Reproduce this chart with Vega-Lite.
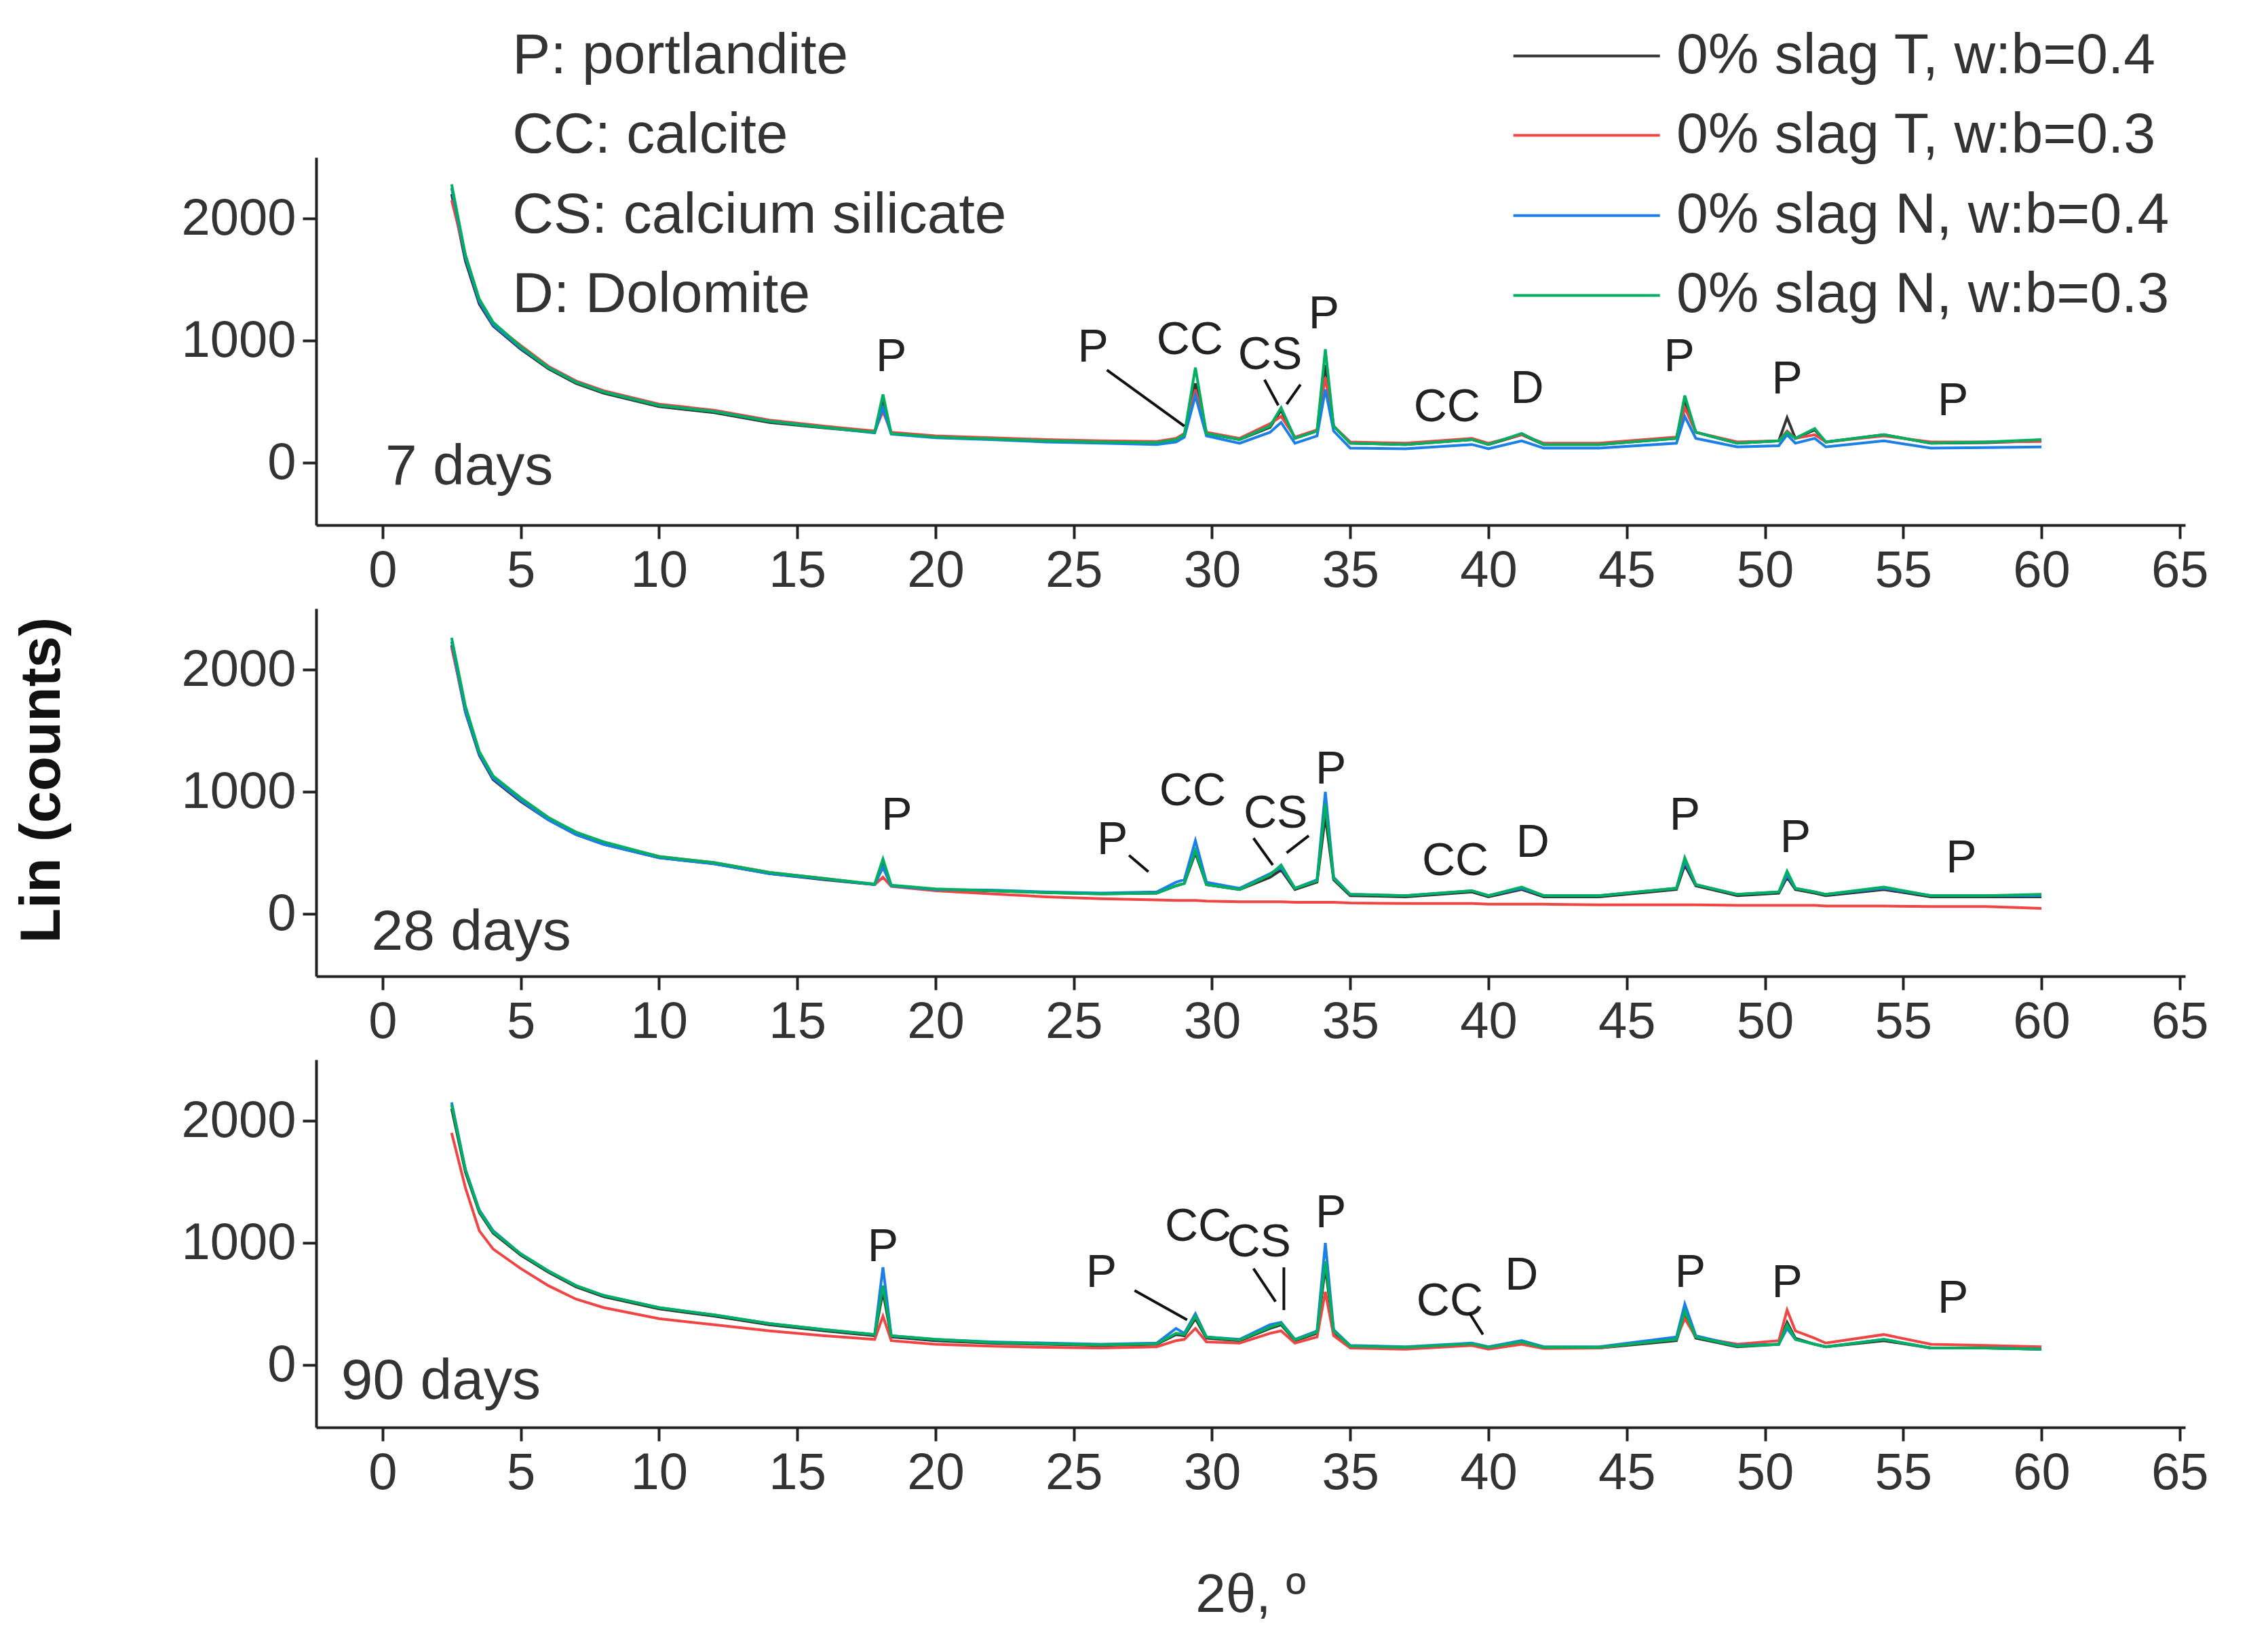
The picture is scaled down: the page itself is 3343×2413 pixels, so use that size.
{
  "$schema": "https://vega.github.io/schema/vega-lite/v6.json",
  "background": "white",
  "padding": {"left": 20, "top": 40, "right": 20, "bottom": 20},
  "bounds": "flush",
  "spacing": 123,
  "config": {
    "font": "Liberation Sans",
    "view": {"stroke": null},
    "axis": {
      "grid": false, "domainColor": "#222", "domainWidth": 4, "tickColor": "#222", "tickWidth": 4, "tickSize": 20,
      "labelFont": "Liberation Sans", "labelFontSize": 76, "labelColor": "#333", "labelPadding": 10, "labelLimit": 0, "format": "d", "title": null
    }
  },
  "datasets": {
    "xrd": [
      {"p":"7","x":2.5,"T4":2200,"T3":2150,"N4":2250,"N3":2280},
      {"p":"7","x":3,"T4":1650,"T3":1700,"N4":1680,"N3":1700},
      {"p":"7","x":3.5,"T4":1300,"T3":1330,"N4":1320,"N3":1340},
      {"p":"7","x":4,"T4":1120,"T3":1140,"N4":1130,"N3":1150},
      {"p":"7","x":5,"T4":930,"T3":960,"N4":940,"N3":950},
      {"p":"7","x":6,"T4":770,"T3":790,"N4":780,"N3":780},
      {"p":"7","x":7,"T4":650,"T3":670,"N4":660,"N3":660},
      {"p":"7","x":8,"T4":570,"T3":590,"N4":580,"N3":580},
      {"p":"7","x":10,"T4":460,"T3":480,"N4":470,"N3":470},
      {"p":"7","x":12,"T4":410,"T3":430,"N4":420,"N3":420},
      {"p":"7","x":14,"T4":330,"T3":350,"N4":340,"N3":340},
      {"p":"7","x":16,"T4":285,"T3":300,"N4":290,"N3":290},
      {"p":"7","x":17.8,"T4":250,"T3":260,"N4":245,"N3":250},
      {"p":"7","x":18.1,"T4":480,"T3":420,"N4":450,"N3":560},
      {"p":"7","x":18.4,"T4":240,"T3":250,"N4":235,"N3":240},
      {"p":"7","x":20,"T4":210,"T3":220,"N4":205,"N3":210},
      {"p":"7","x":22,"T4":195,"T3":205,"N4":190,"N3":195},
      {"p":"7","x":24,"T4":180,"T3":190,"N4":170,"N3":180},
      {"p":"7","x":26,"T4":170,"T3":180,"N4":160,"N3":170},
      {"p":"7","x":28,"T4":165,"T3":175,"N4":150,"N3":165},
      {"p":"7","x":28.7,"T4":190,"T3":200,"N4":170,"N3":190},
      {"p":"7","x":29.0,"T4":230,"T3":240,"N4":210,"N3":230},
      {"p":"7","x":29.4,"T4":650,"T3":600,"N4":550,"N3":780},
      {"p":"7","x":29.8,"T4":240,"T3":250,"N4":220,"N3":240},
      {"p":"7","x":31,"T4":190,"T3":200,"N4":160,"N3":190},
      {"p":"7","x":32.1,"T4":290,"T3":320,"N4":250,"N3":300},
      {"p":"7","x":32.5,"T4":430,"T3":380,"N4":330,"N3":450},
      {"p":"7","x":33,"T4":200,"T3":210,"N4":160,"N3":200},
      {"p":"7","x":33.8,"T4":260,"T3":270,"N4":220,"N3":260},
      {"p":"7","x":34.1,"T4":800,"T3":700,"N4":600,"N3":930},
      {"p":"7","x":34.4,"T4":300,"T3":300,"N4":260,"N3":300},
      {"p":"7","x":35,"T4":160,"T3":170,"N4":120,"N3":160},
      {"p":"7","x":37,"T4":150,"T3":160,"N4":115,"N3":150},
      {"p":"7","x":39.4,"T4":190,"T3":200,"N4":150,"N3":190},
      {"p":"7","x":40,"T4":150,"T3":160,"N4":115,"N3":150},
      {"p":"7","x":41.2,"T4":230,"T3":230,"N4":180,"N3":240},
      {"p":"7","x":42,"T4":150,"T3":160,"N4":120,"N3":150},
      {"p":"7","x":44,"T4":150,"T3":160,"N4":120,"N3":150},
      {"p":"7","x":46.8,"T4":200,"T3":210,"N4":160,"N3":200},
      {"p":"7","x":47.1,"T4":500,"T3":450,"N4":380,"N3":550},
      {"p":"7","x":47.5,"T4":250,"T3":250,"N4":200,"N3":250},
      {"p":"7","x":49,"T4":160,"T3":170,"N4":130,"N3":160},
      {"p":"7","x":50.5,"T4":180,"T3":180,"N4":140,"N3":180},
      {"p":"7","x":50.8,"T4":370,"T3":260,"N4":230,"N3":250},
      {"p":"7","x":51.1,"T4":200,"T3":200,"N4":160,"N3":200},
      {"p":"7","x":51.8,"T4":270,"T3":230,"N4":200,"N3":280},
      {"p":"7","x":52.2,"T4":170,"T3":170,"N4":130,"N3":170},
      {"p":"7","x":54.3,"T4":230,"T3":220,"N4":180,"N3":230},
      {"p":"7","x":56,"T4":160,"T3":170,"N4":120,"N3":160},
      {"p":"7","x":58,"T4":165,"T3":170,"N4":125,"N3":170},
      {"p":"7","x":60,"T4":180,"T3":175,"N4":130,"N3":190},

      {"p":"28","x":2.5,"T4":2200,"T3":2180,"N4":2230,"N3":2260},
      {"p":"28","x":3,"T4":1650,"T3":1680,"N4":1660,"N3":1700},
      {"p":"28","x":3.5,"T4":1300,"T3":1320,"N4":1310,"N3":1330},
      {"p":"28","x":4,"T4":1100,"T3":1120,"N4":1110,"N3":1130},
      {"p":"28","x":5,"T4":920,"T3":940,"N4":930,"N3":950},
      {"p":"28","x":6,"T4":770,"T3":780,"N4":770,"N3":790},
      {"p":"28","x":7,"T4":650,"T3":660,"N4":650,"N3":670},
      {"p":"28","x":8,"T4":570,"T3":580,"N4":570,"N3":590},
      {"p":"28","x":10,"T4":460,"T3":470,"N4":460,"N3":470},
      {"p":"28","x":12,"T4":410,"T3":420,"N4":410,"N3":420},
      {"p":"28","x":14,"T4":330,"T3":340,"N4":330,"N3":340},
      {"p":"28","x":16,"T4":280,"T3":290,"N4":285,"N3":290},
      {"p":"28","x":17.8,"T4":240,"T3":240,"N4":240,"N3":245},
      {"p":"28","x":18.1,"T4":400,"T3":300,"N4":380,"N3":450},
      {"p":"28","x":18.4,"T4":230,"T3":225,"N4":230,"N3":235},
      {"p":"28","x":20,"T4":200,"T3":190,"N4":200,"N3":205},
      {"p":"28","x":22,"T4":190,"T3":165,"N4":195,"N3":190},
      {"p":"28","x":24,"T4":175,"T3":140,"N4":180,"N3":175},
      {"p":"28","x":26,"T4":165,"T3":125,"N4":170,"N3":165},
      {"p":"28","x":28,"T4":170,"T3":115,"N4":180,"N3":170},
      {"p":"28","x":28.7,"T4":230,"T3":110,"N4":260,"N3":230},
      {"p":"28","x":29.0,"T4":250,"T3":110,"N4":280,"N3":250},
      {"p":"28","x":29.4,"T4":500,"T3":110,"N4":600,"N3":520},
      {"p":"28","x":29.8,"T4":240,"T3":105,"N4":260,"N3":240},
      {"p":"28","x":31,"T4":200,"T3":100,"N4":210,"N3":200},
      {"p":"28","x":32.1,"T4":300,"T3":100,"N4":330,"N3":320},
      {"p":"28","x":32.5,"T4":360,"T3":100,"N4":380,"N3":400},
      {"p":"28","x":33,"T4":200,"T3":95,"N4":210,"N3":210},
      {"p":"28","x":33.8,"T4":260,"T3":95,"N4":280,"N3":270},
      {"p":"28","x":34.1,"T4":800,"T3":95,"N4":1000,"N3":900},
      {"p":"28","x":34.4,"T4":280,"T3":95,"N4":300,"N3":290},
      {"p":"28","x":35,"T4":150,"T3":90,"N4":160,"N3":160},
      {"p":"28","x":37,"T4":140,"T3":85,"N4":150,"N3":150},
      {"p":"28","x":39.4,"T4":180,"T3":85,"N4":190,"N3":190},
      {"p":"28","x":40,"T4":140,"T3":80,"N4":150,"N3":150},
      {"p":"28","x":41.2,"T4":200,"T3":80,"N4":210,"N3":220},
      {"p":"28","x":42,"T4":140,"T3":80,"N4":150,"N3":150},
      {"p":"28","x":44,"T4":140,"T3":75,"N4":150,"N3":150},
      {"p":"28","x":46.8,"T4":200,"T3":75,"N4":210,"N3":210},
      {"p":"28","x":47.1,"T4":400,"T3":75,"N4":430,"N3":460},
      {"p":"28","x":47.5,"T4":230,"T3":75,"N4":240,"N3":240},
      {"p":"28","x":49,"T4":150,"T3":70,"N4":160,"N3":160},
      {"p":"28","x":50.5,"T4":170,"T3":70,"N4":180,"N3":180},
      {"p":"28","x":50.8,"T4":300,"T3":70,"N4":320,"N3":350},
      {"p":"28","x":51.1,"T4":200,"T3":70,"N4":210,"N3":210},
      {"p":"28","x":51.8,"T4":170,"T3":70,"N4":180,"N3":180},
      {"p":"28","x":52.2,"T4":150,"T3":65,"N4":160,"N3":160},
      {"p":"28","x":54.3,"T4":200,"T3":65,"N4":210,"N3":220},
      {"p":"28","x":56,"T4":140,"T3":60,"N4":150,"N3":150},
      {"p":"28","x":58,"T4":140,"T3":60,"N4":150,"N3":150},
      {"p":"28","x":60,"T4":140,"T3":45,"N4":150,"N3":160},

      {"p":"90","x":2.5,"T4":2100,"T3":1900,"N4":2150,"N3":2130},
      {"p":"90","x":3,"T4":1580,"T3":1450,"N4":1600,"N3":1600},
      {"p":"90","x":3.5,"T4":1250,"T3":1100,"N4":1270,"N3":1260},
      {"p":"90","x":4,"T4":1080,"T3":950,"N4":1100,"N3":1090},
      {"p":"90","x":5,"T4":900,"T3":790,"N4":910,"N3":910},
      {"p":"90","x":6,"T4":760,"T3":650,"N4":770,"N3":770},
      {"p":"90","x":7,"T4":640,"T3":540,"N4":650,"N3":650},
      {"p":"90","x":8,"T4":560,"T3":470,"N4":570,"N3":570},
      {"p":"90","x":10,"T4":460,"T3":380,"N4":470,"N3":470},
      {"p":"90","x":12,"T4":400,"T3":330,"N4":410,"N3":410},
      {"p":"90","x":14,"T4":330,"T3":280,"N4":340,"N3":340},
      {"p":"90","x":16,"T4":280,"T3":240,"N4":290,"N3":290},
      {"p":"90","x":17.8,"T4":240,"T3":210,"N4":250,"N3":250},
      {"p":"90","x":18.1,"T4":600,"T3":400,"N4":800,"N3":650},
      {"p":"90","x":18.4,"T4":230,"T3":200,"N4":240,"N3":240},
      {"p":"90","x":20,"T4":200,"T3":170,"N4":210,"N3":210},
      {"p":"90","x":22,"T4":180,"T3":155,"N4":190,"N3":185},
      {"p":"90","x":24,"T4":170,"T3":145,"N4":180,"N3":175},
      {"p":"90","x":26,"T4":160,"T3":140,"N4":170,"N3":165},
      {"p":"90","x":28,"T4":170,"T3":150,"N4":180,"N3":175},
      {"p":"90","x":28.7,"T4":250,"T3":200,"N4":300,"N3":260},
      {"p":"90","x":29.0,"T4":240,"T3":210,"N4":260,"N3":250},
      {"p":"90","x":29.4,"T4":380,"T3":300,"N4":420,"N3":400},
      {"p":"90","x":29.8,"T4":220,"T3":190,"N4":230,"N3":230},
      {"p":"90","x":31,"T4":200,"T3":180,"N4":210,"N3":205},
      {"p":"90","x":32.1,"T4":300,"T3":260,"N4":330,"N3":310},
      {"p":"90","x":32.5,"T4":330,"T3":280,"N4":350,"N3":340},
      {"p":"90","x":33,"T4":200,"T3":180,"N4":210,"N3":205},
      {"p":"90","x":33.8,"T4":260,"T3":230,"N4":280,"N3":270},
      {"p":"90","x":34.1,"T4":800,"T3":600,"N4":1000,"N3":850},
      {"p":"90","x":34.4,"T4":270,"T3":240,"N4":290,"N3":280},
      {"p":"90","x":35,"T4":150,"T3":140,"N4":160,"N3":155},
      {"p":"90","x":37,"T4":140,"T3":130,"N4":150,"N3":145},
      {"p":"90","x":39.4,"T4":170,"T3":160,"N4":180,"N3":175},
      {"p":"90","x":40,"T4":140,"T3":130,"N4":150,"N3":145},
      {"p":"90","x":41.2,"T4":180,"T3":170,"N4":200,"N3":190},
      {"p":"90","x":42,"T4":140,"T3":135,"N4":150,"N3":145},
      {"p":"90","x":44,"T4":140,"T3":140,"N4":150,"N3":145},
      {"p":"90","x":46.8,"T4":200,"T3":220,"N4":230,"N3":210},
      {"p":"90","x":47.1,"T4":420,"T3":380,"N4":500,"N3":440},
      {"p":"90","x":47.5,"T4":220,"T3":230,"N4":240,"N3":230},
      {"p":"90","x":49,"T4":150,"T3":170,"N4":160,"N3":155},
      {"p":"90","x":50.5,"T4":170,"T3":200,"N4":170,"N3":170},
      {"p":"90","x":50.8,"T4":350,"T3":450,"N4":300,"N3":330},
      {"p":"90","x":51.1,"T4":220,"T3":280,"N4":210,"N3":210},
      {"p":"90","x":51.8,"T4":170,"T3":220,"N4":170,"N3":170},
      {"p":"90","x":52.2,"T4":150,"T3":180,"N4":150,"N3":150},
      {"p":"90","x":54.3,"T4":200,"T3":250,"N4":210,"N3":210},
      {"p":"90","x":56,"T4":140,"T3":170,"N4":140,"N3":140},
      {"p":"90","x":58,"T4":140,"T3":160,"N4":140,"N3":140},
      {"p":"90","x":60,"T4":130,"T3":150,"N4":130,"N3":130}
    ],
    "ann": [
      {"p":"7","t":"P","x":18.4,"y":860},
      {"p":"7","t":"P","x":25.7,"y":940},
      {"p":"7","t":"CC","x":29.2,"y":1000},
      {"p":"7","t":"CS","x":32.1,"y":880},
      {"p":"7","t":"P","x":34.05,"y":1210},
      {"p":"7","t":"CC","x":38.5,"y":450},
      {"p":"7","t":"D","x":41.4,"y":600},
      {"p":"7","t":"P","x":46.9,"y":860},
      {"p":"7","t":"P","x":50.8,"y":680},
      {"p":"7","t":"P","x":56.8,"y":500},
      {"p":"28","t":"P","x":18.6,"y":800},
      {"p":"28","t":"P","x":26.4,"y":600},
      {"p":"28","t":"CC","x":29.3,"y":1000},
      {"p":"28","t":"CS","x":32.3,"y":820},
      {"p":"28","t":"P","x":34.3,"y":1180},
      {"p":"28","t":"CC","x":38.8,"y":430},
      {"p":"28","t":"D","x":41.6,"y":580},
      {"p":"28","t":"P","x":47.1,"y":800},
      {"p":"28","t":"P","x":51.1,"y":620},
      {"p":"28","t":"P","x":57.1,"y":450},
      {"p":"90","t":"P","x":18.1,"y":960},
      {"p":"90","t":"P","x":26.0,"y":750},
      {"p":"90","t":"CC","x":29.5,"y":1130},
      {"p":"90","t":"CS","x":31.7,"y":1000},
      {"p":"90","t":"P","x":34.3,"y":1240},
      {"p":"90","t":"CC","x":38.6,"y":520},
      {"p":"90","t":"D","x":41.2,"y":730},
      {"p":"90","t":"P","x":47.3,"y":750},
      {"p":"90","t":"P","x":50.8,"y":670},
      {"p":"90","t":"P","x":56.8,"y":540}
    ],
    "arr": [
      {"p":"7","x":26.2,"y":760,"x2":29.0,"y2":300},
      {"p":"7","x":31.9,"y":680,"x2":32.4,"y2":470},
      {"p":"7","x":33.2,"y":640,"x2":32.7,"y2":480},
      {"p":"28","x":27.0,"y":480,"x2":27.7,"y2":345},
      {"p":"28","x":31.5,"y":620,"x2":32.2,"y2":400},
      {"p":"28","x":33.5,"y":640,"x2":32.7,"y2":500},
      {"p":"90","x":27.2,"y":610,"x2":29.1,"y2":370},
      {"p":"90","x":31.5,"y":790,"x2":32.3,"y2":520},
      {"p":"90","x":32.6,"y":800,"x2":32.6,"y2":450},
      {"p":"90","x":39.3,"y":430,"x2":39.8,"y2":250}
    ],
    "leg": [
      {"s":"0% slag T, w:b=0.4","y":3330},
      {"s":"0% slag T, w:b=0.3","y":2680},
      {"s":"0% slag N, w:b=0.4","y":2024},
      {"s":"0% slag N, w:b=0.3","y":1370}
    ],
    "key": [
      {"t":"P: portlandite","y":3330},
      {"t":"CC: calcite","y":2680},
      {"t":"CS: calcium silicate","y":2024},
      {"t":"D: Dolomite","y":1370}
    ]
  },
  "vconcat": [
    {
      "width": 2755, "height": 542,
      "encoding": {
        "x": {"type": "quantitative", "scale": {"domain": [-2.4, 65.2], "nice": false, "zero": false}, "axis": {"values": [0,5,10,15,20,25,30,35,40,45,50,55,60,65]}},
        "y": {"type": "quantitative", "scale": {"domain": [-510, 2500], "nice": false, "zero": false}, "axis": {"values": [0,1000,2000]}}
      },
      "layer": [
        {
          "data": {"name": "xrd"},
          "transform": [{"filter": "datum.p == '7'"}, {"fold": ["T4","T3","N4","N3"], "as": ["s","v"]}],
          "mark": {"type": "line", "strokeWidth": 4, "clip": true},
          "encoding": {"x": {"field": "x"}, "y": {"field": "v"},
            "color": {"field": "s", "type": "nominal", "scale": {"domain": ["T4","T3","N4","N3"], "range": ["#333333","#f04545","#1a7fe6","#00b060"]}, "legend": null}}
        },
        {
          "data": {"name": "ann"}, "transform": [{"filter": "datum.p == '7'"}],
          "mark": {"type": "text", "fontSize": 68, "color": "#222", "baseline": "middle"},
          "encoding": {"x": {"field": "x"}, "y": {"field": "y"}, "text": {"field": "t"}}
        },
        {
          "data": {"name": "arr"}, "transform": [{"filter": "datum.p == '7'"}],
          "mark": {"type": "rule", "strokeWidth": 4, "color": "#111"},
          "encoding": {"x": {"field": "x"}, "y": {"field": "y"}, "x2": {"field": "x2"}, "y2": {"field": "y2"}}
        },
        {
          "data": {"name": "leg"},
          "mark": {"type": "rule", "strokeWidth": 4},
          "encoding": {"x": {"datum": 40.9}, "x2": {"datum": 46.2}, "y": {"field": "y"},
            "color": {"field": "s", "type": "nominal", "scale": {"domain": ["0% slag T, w:b=0.4","0% slag T, w:b=0.3","0% slag N, w:b=0.4","0% slag N, w:b=0.3"], "range": ["#333333","#f04545","#1a7fe6","#00b060"]}, "legend": null}}
        },
        {
          "data": {"name": "leg"},
          "mark": {"type": "text", "fontSize": 84, "color": "#333", "align": "left", "baseline": "middle"},
          "encoding": {"x": {"datum": 46.8}, "y": {"field": "y"}, "text": {"field": "s"}}
        },
        {
          "data": {"name": "key"},
          "mark": {"type": "text", "fontSize": 84, "color": "#333", "align": "left", "baseline": "middle"},
          "encoding": {"x": {"datum": 4.7}, "y": {"field": "y"}, "text": {"field": "t"}}
        },
        {
          "data": {"values": [{"t": "7 days"}]},
          "mark": {"type": "text", "fontSize": 84, "color": "#333", "align": "left", "baseline": "middle"},
          "encoding": {"x": {"datum": 0.1}, "y": {"datum": -40}, "text": {"field": "t"}}
        }
      ]
    },
    {
      "width": 2755, "height": 542,
      "encoding": {
        "x": {"type": "quantitative", "scale": {"domain": [-2.4, 65.2], "nice": false, "zero": false}, "axis": {"values": [0,5,10,15,20,25,30,35,40,45,50,55,60,65]}},
        "y": {"type": "quantitative", "scale": {"domain": [-510, 2500], "nice": false, "zero": false}, "axis": {"values": [0,1000,2000]}}
      },
      "layer": [
        {
          "data": {"name": "xrd"},
          "transform": [{"filter": "datum.p == '28'"}, {"fold": ["T4","T3","N4","N3"], "as": ["s","v"]}],
          "mark": {"type": "line", "strokeWidth": 4, "clip": true},
          "encoding": {"x": {"field": "x"}, "y": {"field": "v"},
            "color": {"field": "s", "type": "nominal", "scale": {"domain": ["T4","T3","N4","N3"], "range": ["#333333","#f04545","#1a7fe6","#00b060"]}, "legend": null}}
        },
        {
          "data": {"name": "ann"}, "transform": [{"filter": "datum.p == '28'"}],
          "mark": {"type": "text", "fontSize": 68, "color": "#222", "baseline": "middle"},
          "encoding": {"x": {"field": "x"}, "y": {"field": "y"}, "text": {"field": "t"}}
        },
        {
          "data": {"name": "arr"}, "transform": [{"filter": "datum.p == '28'"}],
          "mark": {"type": "rule", "strokeWidth": 4, "color": "#111"},
          "encoding": {"x": {"field": "x"}, "y": {"field": "y"}, "x2": {"field": "x2"}, "y2": {"field": "y2"}}
        },
        {
          "data": {"values": [{"t": "28 days"}]},
          "mark": {"type": "text", "fontSize": 84, "color": "#333", "align": "left", "baseline": "middle"},
          "encoding": {"x": {"datum": -0.4}, "y": {"datum": -155}, "text": {"field": "t"}}
        },
        {
          "data": {"values": [{"t": "Lin (counts)"}]},
          "mark": {"type": "text", "fontSize": 84, "fontWeight": "bold", "color": "#111", "angle": 270, "baseline": "middle"},
          "encoding": {"x": {"datum": -12.3}, "y": {"datum": 1095}, "text": {"field": "t"}}
        }
      ]
    },
    {
      "width": 2755, "height": 542,
      "encoding": {
        "x": {"type": "quantitative", "scale": {"domain": [-2.4, 65.2], "nice": false, "zero": false}, "axis": {"values": [0,5,10,15,20,25,30,35,40,45,50,55,60,65]}},
        "y": {"type": "quantitative", "scale": {"domain": [-510, 2500], "nice": false, "zero": false}, "axis": {"values": [0,1000,2000]}}
      },
      "layer": [
        {
          "data": {"name": "xrd"},
          "transform": [{"filter": "datum.p == '90'"}, {"fold": ["T4","T3","N4","N3"], "as": ["s","v"]}],
          "mark": {"type": "line", "strokeWidth": 4, "clip": true},
          "encoding": {"x": {"field": "x"}, "y": {"field": "v"},
            "color": {"field": "s", "type": "nominal", "scale": {"domain": ["T4","T3","N4","N3"], "range": ["#333333","#f04545","#1a7fe6","#00b060"]}, "legend": null}}
        },
        {
          "data": {"name": "ann"}, "transform": [{"filter": "datum.p == '90'"}],
          "mark": {"type": "text", "fontSize": 68, "color": "#222", "baseline": "middle"},
          "encoding": {"x": {"field": "x"}, "y": {"field": "y"}, "text": {"field": "t"}}
        },
        {
          "data": {"name": "arr"}, "transform": [{"filter": "datum.p == '90'"}],
          "mark": {"type": "rule", "strokeWidth": 4, "color": "#111"},
          "encoding": {"x": {"field": "x"}, "y": {"field": "y"}, "x2": {"field": "x2"}, "y2": {"field": "y2"}}
        },
        {
          "data": {"values": [{"t": "90 days"}]},
          "mark": {"type": "text", "fontSize": 84, "color": "#333", "align": "left", "baseline": "middle"},
          "encoding": {"x": {"datum": -1.5}, "y": {"datum": -140}, "text": {"field": "t"}}
        },
        {
          "data": {"values": [{"t": "2θ, º"}]},
          "mark": {"type": "text", "fontSize": 80, "color": "#333", "baseline": "middle"},
          "encoding": {"x": {"datum": 31.4}, "y": {"datum": -1890}, "text": {"field": "t"}}
        }
      ]
    }
  ]
}
